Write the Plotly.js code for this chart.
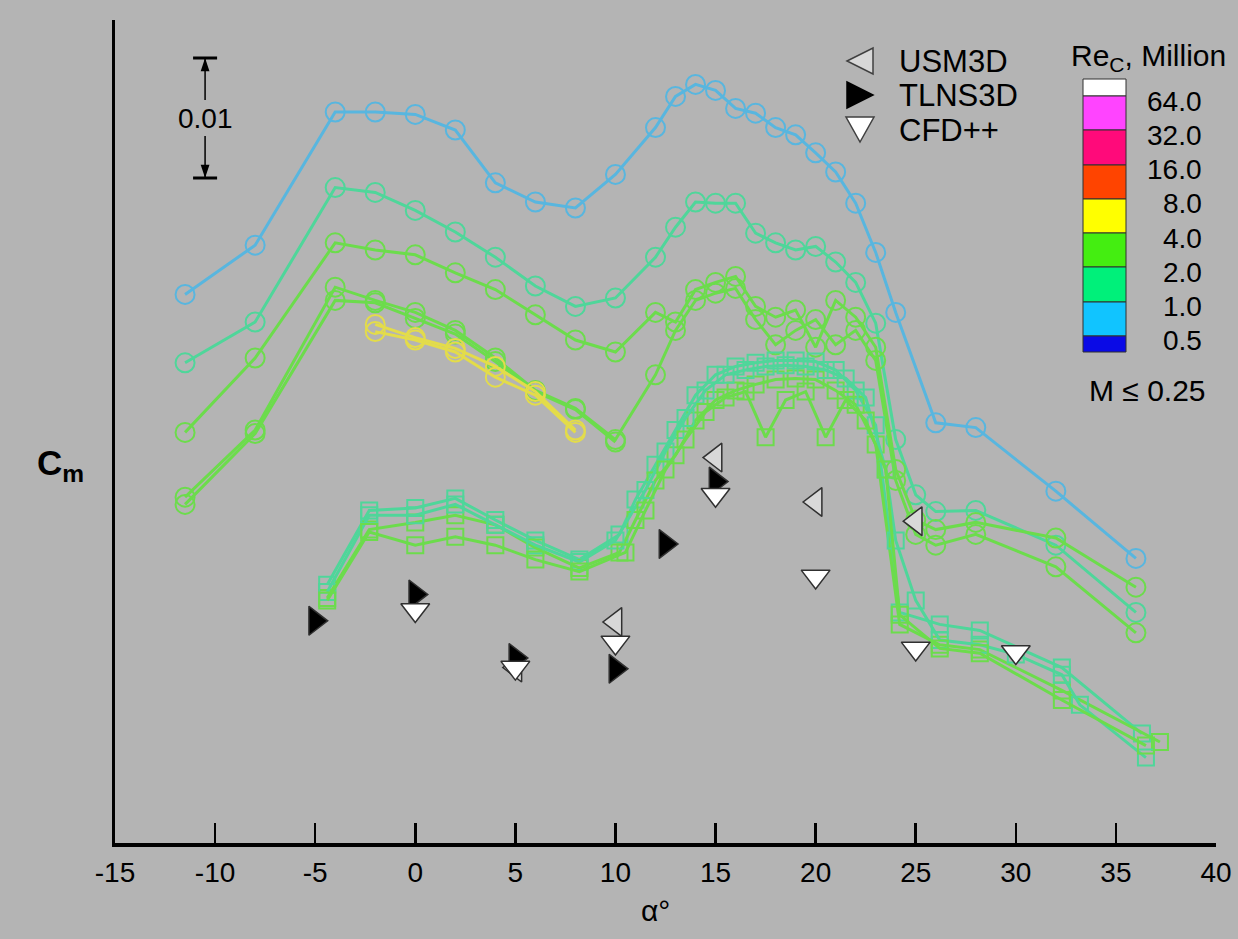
<!DOCTYPE html>
<html>
<head>
<meta charset="utf-8">
<script src="https://cdn.plot.ly/plotly-3.0.1.min.js"></script>
<style>html,body{margin:0;padding:0;background:#b4b4b4;}#chart{width:1238px;height:939px;}</style>
</head>
<body>
<div id="chart"></div>
<script>
// ---------------- DATA (alpha in degrees, Cm) ----------------
// Open-circle runs
const alphaC1 = [-11.5,-8,-4,-2,0,2,4,6,8,10,12,13,14,15,16,17,18,19,20,21,22,23,24,26,28,32,36];
const cmC1    = [0.0338,0.0379,0.0490,0.0490,0.0488,0.0475,0.0431,0.0415,0.0410,0.0438,0.0477,0.0503,0.0513,0.0508,0.0493,0.0489,0.0477,0.0471,0.0456,0.0440,0.0414,0.0373,0.0323,0.0231,0.0227,0.0174,0.0118];

const alphaC2 = [-11.5,-8,-4,-2,0,2,4,6,8,10,12,13,14,15,16,17,18,19,20,21,22,23,24,25,26,28,32,36];
const cmC2    = [0.0281,0.0315,0.0427,0.0423,0.0408,0.0390,0.0369,0.0345,0.0328,0.0335,0.0369,0.0394,0.0415,0.0414,0.0414,0.0389,0.0381,0.0375,0.0378,0.0365,0.0348,0.0314,0.0217,0.0171,0.0157,0.0158,0.0129,0.0073];

const alphaC3 = [-11.5,-8,-4,-2,0,2,4,6,8,10,12,13,14,15,16,17,18,19,20,21,22,23,24,25,26,28,32,36];
const cmC3    = [0.0223,0.0285,0.0381,0.0375,0.0371,0.0356,0.0342,0.0321,0.0300,0.0290,0.0323,0.0315,0.0342,0.0348,0.0353,0.0328,0.0319,0.0325,0.0294,0.0333,0.0319,0.0294,0.0192,0.0150,0.0142,0.0148,0.0135,0.0094];

const alphaC4 = [-11.5,-8,-4,-2,0,2,4,6,8,10,12,13,14,15,16,17,18,19,20,21,22,23,24,25,26,28,32,36];
const cmC4    = [0.0169,0.0225,0.0344,0.0333,0.0323,0.0308,0.0285,0.0258,0.0243,0.0217,0.0271,0.0308,0.0333,0.0339,0.0343,0.0317,0.0296,0.0308,0.0317,0.0296,0.0308,0.0283,0.0183,0.0138,0.0129,0.0138,0.0111,0.0056];

const alphaC5 = [-11.5,-8,-4,-2,0,2,4,6,8,10];
const cmC5    = [0.0163,0.0222,0.0333,0.0331,0.0318,0.0305,0.0282,0.0257,0.0242,0.0215];

const alphaY1 = [-2,0,2,4,6,8];
const cmY1    = [0.0313,0.0302,0.0293,0.0278,0.0257,0.0225];
const alphaY2 = [-2,0,2,4,6,8];
const cmY2    = [0.0307,0.0300,0.0290,0.0269,0.0254,0.0223];

// Open-square runs
const alphaS1 = [-4.4,-2.3,0,2,4,6,8.2,10.2,11,12,13,14,15,16,17,18,19,20,21,22,23,24.2,26.2,28.2,32.3,36.3];
const cmS1    = [0.0096,0.0158,0.0160,0.0168,0.0150,0.0133,0.0117,0.0138,0.0167,0.0196,0.0225,0.0254,0.0271,0.0278,0.0281,0.0283,0.0283,0.0282,0.0275,0.0258,0.0229,0.0073,0.0063,0.0058,0.0027,-0.0028];

const alphaS2 = [-4.4,-2.3,0,2,4,6,8.2,10.2,11,12,13,14,15,16,17,18,19,20,21,22,23,24.2,26.2,28.2,32.3,37.2];
const cmS2    = [0.0085,0.0142,0.0148,0.0154,0.0146,0.0127,0.0110,0.0123,0.0150,0.0183,0.0204,0.0233,0.0250,0.0258,0.0263,0.0267,0.0268,0.0267,0.0258,0.0246,0.0213,0.0063,0.0046,0.0042,0.0008,-0.0035];

const alphaS3 = [-4.4,-2.3,0,2,4,6,8.2,10,11.5,12.5,13.5,14.5,15.5,16.5,17.5,18.5,19.5,20.5,21.5,22.5,23.5,24,25,26.2,28.2,30,32.3,33.2,36.5];
const cmS3    = [0.0090,0.0154,0.0154,0.0163,0.0146,0.0129,0.0115,0.0133,0.0175,0.0207,0.0235,0.0258,0.0271,0.0275,0.0278,0.0279,0.0278,0.0275,0.0268,0.0252,0.0192,0.0133,0.0083,0.0050,0.0046,0.0038,0.0021,-0.0004,-0.0048];

const alphaS4 = [-4.4,-2.3,0,2,4,6,8.2,10.5,11.5,12.5,13.5,14.5,15.5,16.5,17.5,18.5,19.5,20.5,21.5,22.5,23.5,24.2,26.2,28.2,32.3,36.5];
const cmS4    = [0.0083,0.0140,0.0129,0.0136,0.0129,0.0117,0.0107,0.0123,0.0158,0.0192,0.0217,0.0240,0.0252,0.0257,0.0219,0.0250,0.0257,0.0219,0.0250,0.0233,0.0192,0.0071,0.0043,0.0039,0.0000,-0.0038];

// CFD results
const alphaUSM = [5,10,15,20,25];
const cmUSM    = [0.0027,0.0065,0.0202,0.0165,0.0149];
const alphaTLN = [-5,0,5,10,12.5,15];
const cmTLN    = [0.0066,0.0088,0.0035,0.0026,0.0130,0.0182];
const alphaCFD = [0,5,10,15,20,25,30];
const cmCFD    = [0.0075,0.0027,0.0048,0.0171,0.0103,0.0043,0.0040];

// Axis ticks
const xTickVals = [-15,-10,-5,0,5,10,15,20,25,30,35,40];
const xTickText = ["-15","-10","-5","0","5","10","15","20","25","30","35","40"];

// Reynolds-number key
const reLabels = ["64.0","32.0","16.0","8.0","4.0","2.0","1.0","0.5"];
const reColors = ["#ffffff","#ff44ff","#ff0a7a","#ff4400","#ffff00","#44ee11","#00f07a","#11c4ff","#0a0ae6"];
const codeNames = ["USM3D","TLNS3D","CFD++"];

// ---------------- STYLE ----------------
const BLUE="#58b6df", TEAL="#4fd69a", GREEN="#6cdc4c", YELLOW="#e3dc4a";
const FONT="Liberation Sans, Arial, Helvetica, sans-serif";
const L=115, R=1216, T=20, B=843, W=R-L, H=B-T;
const px=p=>(p-L)/W, py=p=>(B-p)/H;

function circ(x,y,c){return {x:x,y:y,mode:'lines+markers',type:'scatter',showlegend:false,hoverinfo:'skip',
  line:{color:c,width:3},marker:{symbol:'circle-open',size:19,color:c,line:{width:2,color:c}}};}
function sq(x,y,c){return {x:x,y:y,mode:'lines+markers',type:'scatter',showlegend:false,hoverinfo:'skip',
  line:{color:c,width:3},marker:{symbol:'square-open',size:16,color:c,line:{width:2,color:c}}};}
function tri(x,y,sym,fill){return {x:x,y:y,mode:'markers',type:'scatter',showlegend:false,hoverinfo:'skip',
  marker:{symbol:sym,size:25,color:fill,line:{width:1.5,color:'#303030'}}};}

const traces=[
  circ(alphaC1,cmC1,BLUE),
  circ(alphaC2,cmC2,TEAL),
  circ(alphaC3,cmC3,GREEN),
  circ(alphaC4,cmC4,GREEN),
  circ(alphaC5,cmC5,GREEN),
  circ(alphaY1,cmY1,YELLOW),
  circ(alphaY2,cmY2,YELLOW),
  sq(alphaS1,cmS1,TEAL),
  sq(alphaS2,cmS2,GREEN),
  sq(alphaS3,cmS3,TEAL),
  sq(alphaS4,cmS4,GREEN),
  tri(alphaUSM,cmUSM,'triangle-left','#d8d8d8'),
  tri(alphaTLN,cmTLN,'triangle-right','#000000'),
  tri(alphaCFD,cmCFD,'triangle-down','#ffffff')
];

// ---------------- ANNOTATIONS & SHAPES ----------------
const shapes=[];
const ann=[];
// scale bar (0.01 in Cm)
const sbx=-10.5, sbTop=0.0535, sbBot=0.0435;
shapes.push({type:'line',xref:'x',yref:'y',x0:sbx-0.6,x1:sbx+0.6,y0:sbTop,y1:sbTop,line:{color:'#000',width:3}});
shapes.push({type:'line',xref:'x',yref:'y',x0:sbx-0.6,x1:sbx+0.6,y0:sbBot,y1:sbBot,line:{color:'#000',width:3}});
shapes.push({type:'line',xref:'x',yref:'y',x0:sbx,x1:sbx,y0:sbTop,y1:0.0500,line:{color:'#000',width:1.5}});
shapes.push({type:'line',xref:'x',yref:'y',x0:sbx,x1:sbx,y0:0.0470,y1:sbBot,line:{color:'#000',width:1.5}});
shapes.push({type:'path',xref:'x',yref:'y',path:`M ${sbx},${sbTop} L ${sbx-0.22},${sbTop-0.0011} L ${sbx+0.22},${sbTop-0.0011} Z`,fillcolor:'#000',line:{width:0}});
shapes.push({type:'path',xref:'x',yref:'y',path:`M ${sbx},${sbBot} L ${sbx-0.22},${sbBot+0.0011} L ${sbx+0.22},${sbBot+0.0011} Z`,fillcolor:'#000',line:{width:0}});
ann.push({xref:'x',yref:'y',x:sbx,y:0.0485,text:'0.01',showarrow:false,font:{family:FONT,size:28,color:'#000'}});

// code legend (symbols drawn in pixel-derived paper coords)
function pth(pts){return 'M '+pts.map(p=>px(p[0])+','+py(p[1])).join(' L ')+' Z';}
shapes.push({type:'path',xref:'paper',yref:'paper',path:pth([[847,61],[873,48],[873,74]]),fillcolor:'#d8d8d8',line:{color:'#404040',width:1.5}});
shapes.push({type:'path',xref:'paper',yref:'paper',path:pth([[847,82],[873,95],[847,108]]),fillcolor:'#000000',line:{color:'#000000',width:1.5}});
shapes.push({type:'path',xref:'paper',yref:'paper',path:pth([[846,117],[874,117],[860,142]]),fillcolor:'#ffffff',line:{color:'#404040',width:1.5}});
const legY=[61,95,130];
codeNames.forEach((n,i)=>ann.push({xref:'paper',yref:'paper',x:px(897),y:py(legY[i]),xanchor:'left',yanchor:'middle',text:n,showarrow:false,font:{family:FONT,size:31,color:'#000'}}));

// Reynolds colour key
const rowB=[79,96,130,165,199,233,267,302,336,352];
reColors.forEach((c,i)=>shapes.push({type:'rect',xref:'paper',yref:'paper',x0:px(1083),x1:px(1126),y0:py(rowB[i+1]),y1:py(rowB[i]),fillcolor:c,line:{color:'#303030',width:1}}));
const labY=[101,136,169,203,238,272,306,340];
reLabels.forEach((t,i)=>ann.push({xref:'paper',yref:'paper',x:px(1204),y:py(labY[i]),xanchor:'right',yanchor:'middle',text:t,showarrow:false,font:{family:FONT,size:28,color:'#000'}}));
ann.push({xref:'paper',yref:'paper',x:px(1148),y:py(57),xanchor:'center',yanchor:'middle',text:'Re<sub>C</sub>, Million',showarrow:false,font:{family:FONT,size:30,color:'#000'}});
ann.push({xref:'paper',yref:'paper',x:px(1147),y:py(390),xanchor:'center',yanchor:'middle',text:'M ≤ 0.25',showarrow:false,font:{family:FONT,size:30,color:'#000'}});

// axis titles
ann.push({xref:'paper',yref:'paper',x:px(655),y:py(911),xanchor:'center',yanchor:'middle',text:'α°',showarrow:false,font:{family:FONT,size:30,color:'#000'}});
ann.push({xref:'paper',yref:'paper',x:px(60),y:py(465),xanchor:'center',yanchor:'middle',text:'<b>C<sub>m</sub></b>',showarrow:false,font:{family:FONT,size:35,color:'#000'}});

const layout={
  width:1238,height:939,
  margin:{l:L,r:1238-R,t:T,b:939-B,pad:0},
  paper_bgcolor:'#b4b4b4',plot_bgcolor:'#b4b4b4',
  showlegend:false,
  font:{family:FONT,color:'#000'},
  xaxis:{range:[-15,40],tickvals:xTickVals,ticktext:xTickText,ticks:'inside',ticklen:20,tickwidth:2.5,tickcolor:'#000',
    showline:true,linewidth:3.5,linecolor:'#000',showgrid:false,zeroline:false,ticklabelstandoff:2,
    tickfont:{family:FONT,size:28,color:'#000'},automargin:false},
  yaxis:{range:[(700-B)/12000,(700-T)/12000],showline:true,linewidth:3,linecolor:'#000',showgrid:false,zeroline:false,
    showticklabels:false,ticks:'',automargin:false},
  shapes:shapes,annotations:ann
};
Plotly.newPlot('chart',traces,layout,{staticPlot:true,displayModeBar:false});
</script>
</body>
</html>
